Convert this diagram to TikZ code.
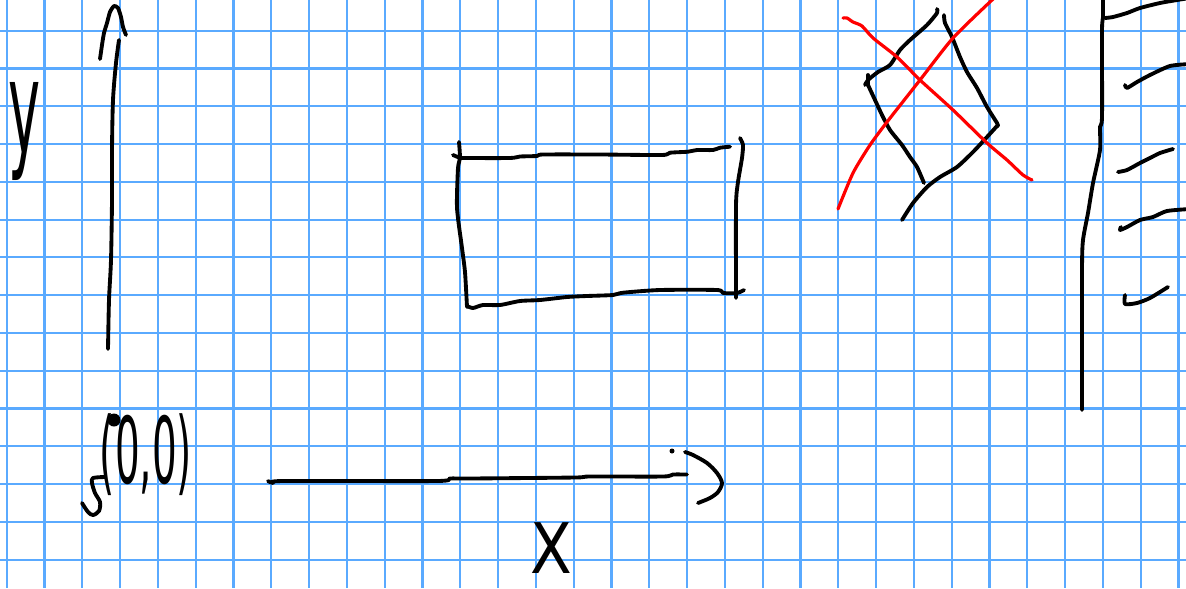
\documentclass[tikz,border=0pt]{standalone}
\usepackage{fontspec}
\setmainfont{DejaVu Sans}
\definecolor{gridblue}{RGB}{90,170,255}
\begin{document}
    \begin{tikzpicture}[x = 0.26458mm, y = -0.26458mm,
            gridline/.style = {gridblue, line width = 1.6pt},
            pen/.style = {black, line width = 2.9pt, line cap = round, line join = round},
            redpen/.style = {red, line width = 2.4pt, line cap = round, line join = round},
            hand/.style = {anchor = base, inner sep = 0pt}]
        \fill[white] (0, 0) rectangle (1186, 588);
        \useasboundingbox (0, 0) rectangle (1186, 588);
        \foreach \k in {0, ..., 31}{
            \pgfmathsetmacro{\gx}{6.7 + 37.8 * \k}
            \draw[gridline] (\gx, 0) -- (\gx, 588);
        }
        \foreach \k in {0, ..., 14}{
            \pgfmathsetmacro{\gy}{30.7 + 37.78 * \k}
            \draw[gridline] (0, \gy) -- (1186, \gy);
        }
        % y axis
        \draw[pen] plot[smooth, tension = 0.5] coordinates {(119, 40) (116, 63) (113, 100) (112, 150) (112, 200) (111, 260) (109, 300) (108, 349)};
        \draw[pen] plot[smooth, tension = 0.4] coordinates {(100, 59) (102, 45) (104, 33) (107, 23) (110, 12) (114, 6) (118, 8) (121, 17) (123, 27) (126, 35)};
        \node[hand] (ylabel) at (25, 153) {\fontsize{60}{60}\selectfont\scalebox{0.68}[1.63]{y}};
        % origin
        \fill (114, 420) circle (6.5);
        \draw[pen] plot[smooth, tension = 0.5] coordinates {(105, 477) (93, 478) (92, 483) (95, 493) (100, 502) (99, 511) (93, 515) (88, 512) (82, 503)};
        \node[hand] (origin) at (146, 483) {\fontsize{45}{45}\selectfont\scalebox{0.65}[1.54]{(0,0)}};
        % x axis
        \draw[pen] plot[smooth, tension = 0.4] coordinates {(268, 481) (273, 483) (283, 481) (437, 481) (450, 478.5) (470, 478.5) (575, 477.5) (590, 476.5) (663, 476.5) (673, 474.5) (687, 474.5)};
        \draw[pen] plot[smooth, tension = 0.5] coordinates {(685, 452) (693, 455) (707, 463) (717, 473) (722, 483) (718, 492) (710, 498) (698, 503)};
        \fill (672, 451) circle (2.5);
        \node[hand] (xlabel) at (551, 573) {\fontsize{51}{51}\selectfont\scalebox{0.9}[1.03]{X}};
        % rectangle
        \draw[pen] plot[smooth, tension = 0.4] coordinates {(459, 142) (460, 158) (458, 168) (457, 208) (462, 248) (465, 272) (467, 307)};
        \draw[pen] (453, 155) -- (460, 158);
        \draw[pen] plot[smooth, tension = 0.4] coordinates {(460, 158) (510, 158) (520, 156.5) (537, 156) (543, 154.5) (600, 154.5) (662, 155) (670, 152.7) (688, 151.7) (697, 150) (713, 150) (720, 147.7) (730, 146.7)};
        \draw[pen] plot[smooth, tension = 0.4] coordinates {(740, 138) (743, 145) (742, 158) (738, 182) (736, 205) (736, 298)};
        \draw[pen] plot[smooth, tension = 0.4] coordinates {(467, 306) (473, 308) (483, 305) (500, 305) (520, 301) (540, 300) (567, 297) (587, 296) (613, 295) (623, 292.7) (660, 290) (717, 290) (723, 293) (737, 293) (744, 290)};
        % crossed out square
        \draw[pen] plot[smooth, tension = 0.4] coordinates {(937, 9) (937, 13) (927, 25) (910, 40) (900, 50) (890, 65) (878, 72) (868, 80) (865, 85)};
        \draw[pen] (868, 75) -- (868, 85);
        \draw[pen] plot[smooth, tension = 0.4] coordinates {(868, 85) (875, 100) (882, 115) (890, 130) (902, 145) (910, 157) (917, 167) (924, 183)};
        \draw[pen] plot[smooth, tension = 0.4] coordinates {(944, 15) (945, 23) (952, 37) (960, 57) (967, 72) (977, 88) (987, 107) (997, 123) (998, 126)};
        \draw[pen] plot[smooth, tension = 0.4] coordinates {(997, 126) (987, 137) (973, 152) (957, 167) (940, 177) (927, 187) (913, 203) (902, 220)};
        \draw[redpen] plot[smooth, tension = 0.4] coordinates {(843, 18) (847, 18) (853, 22) (862, 26) (873, 38) (897, 57) (920, 80) (953, 110) (987, 143) (1007, 160) (1023, 175) (1032, 180)};
        \draw[redpen] plot[smooth, tension = 0.4] coordinates {(996, -3) (992, 0) (953, 38) (920, 80) (887, 122) (870, 145) (853, 173) (838, 209)};
        % margin
        \draw[pen] plot[smooth, tension = 0.4] coordinates {(1103, -3) (1103, 17) (1102, 30) (1102, 117) (1100, 127) (1100, 150) (1093, 183) (1088, 213) (1083, 240) (1082, 270) (1082, 410)};
        \draw[pen] plot[smooth, tension = 0.4] coordinates {(1105, 18) (1113, 17) (1127, 13) (1140, 8) (1160, 3) (1177, 0) (1190, -2)};
        \draw[pen] plot[smooth, tension = 0.4] coordinates {(1125, 85) (1127, 88) (1137, 82) (1150, 75) (1170, 66) (1190, 64)};
        \draw[pen] plot[smooth, tension = 0.4] coordinates {(1118, 172) (1127, 170) (1140, 163) (1150, 158) (1160, 153) (1173, 149)};
        \draw[pen] plot[smooth, tension = 0.4] coordinates {(1121, 227) (1120, 230) (1127, 227) (1140, 220) (1153, 217) (1167, 211) (1190, 209)};
        \draw[pen] plot[smooth, tension = 0.4] coordinates {(1125, 295) (1125, 304) (1137, 303) (1150, 298) (1168, 287)};
    \end{tikzpicture}
\end{document}
